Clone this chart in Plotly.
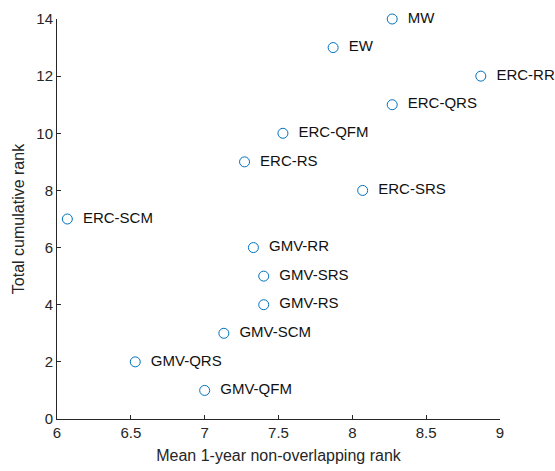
import plotly.graph_objects as go

labels = ["MW", "EW", "ERC-RR", "ERC-QRS", "ERC-QFM", "ERC-RS", "ERC-SRS",
          "ERC-SCM", "GMV-RR", "GMV-SRS", "GMV-RS", "GMV-SCM", "GMV-QRS", "GMV-QFM"]
mean_rank = [8.27, 7.87, 8.87, 8.27, 7.53, 7.27, 8.07,
             6.07, 7.33, 7.40, 7.40, 7.13, 6.53, 7.00]
cum_rank = [14, 13, 12, 11, 10, 9, 8, 7, 6, 5, 4, 3, 2, 1]

axis_color = "#262626"
font = "Liberation Sans, Arial, sans-serif"

fig = go.Figure()
fig.add_trace(go.Scatter(
    x=mean_rank, y=cum_rank, mode="markers+text",
    text=["  " + t for t in labels], textposition="middle right",
    textfont=dict(family=font, size=15, color="#111111"),
    marker=dict(symbol="circle-open", size=10, color="#0072BD", line=dict(width=1)),
    cliponaxis=False, showlegend=False,
))

common = dict(showline=True, linecolor=axis_color, linewidth=1, ticks="inside",
              ticklen=4, tickcolor=axis_color, showgrid=False, zeroline=False,
              mirror=False, automargin=False,
              tickfont=dict(family=font, size=15, color=axis_color),
              title_font=dict(family=font, size=16, color=axis_color))

fig.update_xaxes(range=[6, 9], dtick=0.5, title_text="Mean 1-year non-overlapping rank",
                 title_standoff=9, **common)
fig.update_yaxes(range=[0, 14], dtick=2, title_text="Total cumulative rank",
                 title_standoff=7, **common)

fig.update_layout(width=555, height=471, plot_bgcolor="white", paper_bgcolor="white",
                  margin=dict(l=57, r=55, t=19, b=52))
fig.write_html("out.html", config={"displayModeBar": False},
               post_script="document.body.style.margin='0';")
